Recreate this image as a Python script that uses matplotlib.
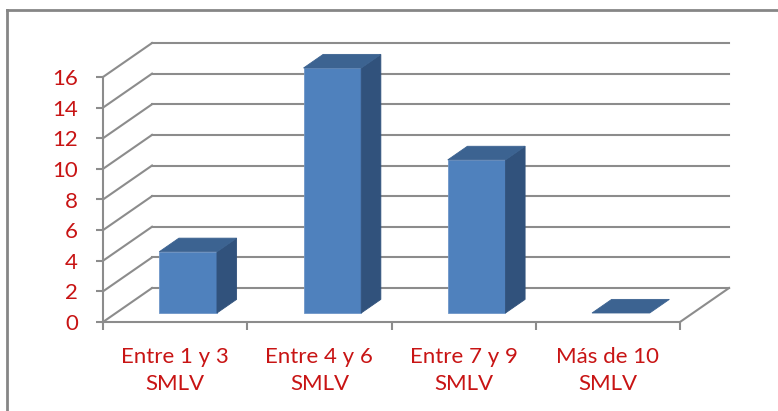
import matplotlib.pyplot as plt
from matplotlib.patches import Polygon
from matplotlib.lines import Line2D

categories = ['Entre 1 y 3\nSMLV', 'Entre 4 y 6\nSMLV', 'Entre 7 y 9\nSMLV', 'Más de 10\nSMLV']
values = [4, 16, 10, 0]
y_ticks = [0, 2, 4, 6, 8, 10, 12, 14, 16]

# 3d look: depth offset of the back wall, in data units
depth_x = 0.34
depth_y = 2.22
bar_w = 0.4
bar_f0, bar_f1 = 0.265, 0.665

front_col = '#4F81BD'
side_col = '#31527C'
top_col = '#3C6391'
grid_col = '#8C8C8C'
text_col = '#C81414'

plt.rcParams['font.family'] = ['Lato', 'DejaVu Sans']

fig = plt.figure(figsize=(7.78, 4.11), dpi=100)
ax = fig.add_axes([103 / 778, (411 - 322) / 411, 577 / 778, 245 / 411])
ax.set_xlim(-0.5, len(categories) - 0.5)
ax.set_ylim(0, 16)
ax.patch.set_alpha(0)

x0, x1 = -0.5, len(categories) - 0.5

# back wall gridlines and left wall diagonals
for v in y_ticks:
    ax.add_line(Line2D([x0 + depth_x, x1 + depth_x], [v + depth_y, v + depth_y],
                       color=grid_col, lw=1.5, clip_on=False, zorder=1))
    ax.add_line(Line2D([x0, x0 + depth_x], [v, v + depth_y],
                       color=grid_col, lw=1.5, clip_on=False, zorder=1))
# floor right edge
ax.add_line(Line2D([x1, x1 + depth_x], [0, depth_y], color=grid_col, lw=1.5, clip_on=False, zorder=1))

# bars
for i, v in enumerate(values):
    fx = i - bar_w / 2 + bar_f0 * depth_x
    fy = bar_f0 * depth_y
    bx = (bar_f1 - bar_f0) * depth_x
    by = (bar_f1 - bar_f0) * depth_y
    front = [(fx, fy), (fx + bar_w, fy), (fx + bar_w, fy + v), (fx, fy + v)]
    side = [(fx + bar_w, fy), (fx + bar_w + bx, fy + by), (fx + bar_w + bx, fy + by + v), (fx + bar_w, fy + v)]
    top = [(fx, fy + v), (fx + bar_w, fy + v), (fx + bar_w + bx, fy + by + v), (fx + bx, fy + by + v)]
    if v > 0:
        ax.add_patch(Polygon(front, closed=True, fc=front_col, ec='#6E96C8', lw=0.6, clip_on=False, zorder=3))
        ax.add_patch(Polygon(side, closed=True, fc=side_col, ec=side_col, lw=0.6, clip_on=False, zorder=3))
    ax.add_patch(Polygon(top, closed=True, fc=top_col, ec=top_col, lw=0.6, clip_on=False, zorder=4))

for s in ['top', 'right']:
    ax.spines[s].set_visible(False)
for s in ['left', 'bottom']:
    ax.spines[s].set_color(grid_col)
    ax.spines[s].set_linewidth(1.5)

ax.set_yticks(y_ticks)
ax.tick_params(axis='y', direction='out', length=5, width=1.5, color=grid_col,
               labelcolor=text_col, labelsize=16, pad=13)
ax.set_xticks([k - 0.5 for k in range(len(categories) + 1)])
ax.set_xticklabels([])
ax.tick_params(axis='x', which='major', direction='out', length=6, width=1.5, color=grid_col)
ax.set_xticks(range(len(categories)), minor=True)
ax.set_xticklabels(categories, minor=True, linespacing=1.45)
ax.tick_params(axis='x', which='minor', length=0, labelcolor=text_col, labelsize=16, pad=18)

# outer chart frame (left and top edges visible)
fig.add_artist(Line2D([7 / 778, 7 / 778], [0, 1 - 10 / 411], transform=fig.transFigure, color='#868686', lw=2))
fig.add_artist(Line2D([7 / 778, 1], [1 - 10 / 411, 1 - 10 / 411], transform=fig.transFigure, color='#868686', lw=2))

fig.savefig('out.png', dpi=100)
